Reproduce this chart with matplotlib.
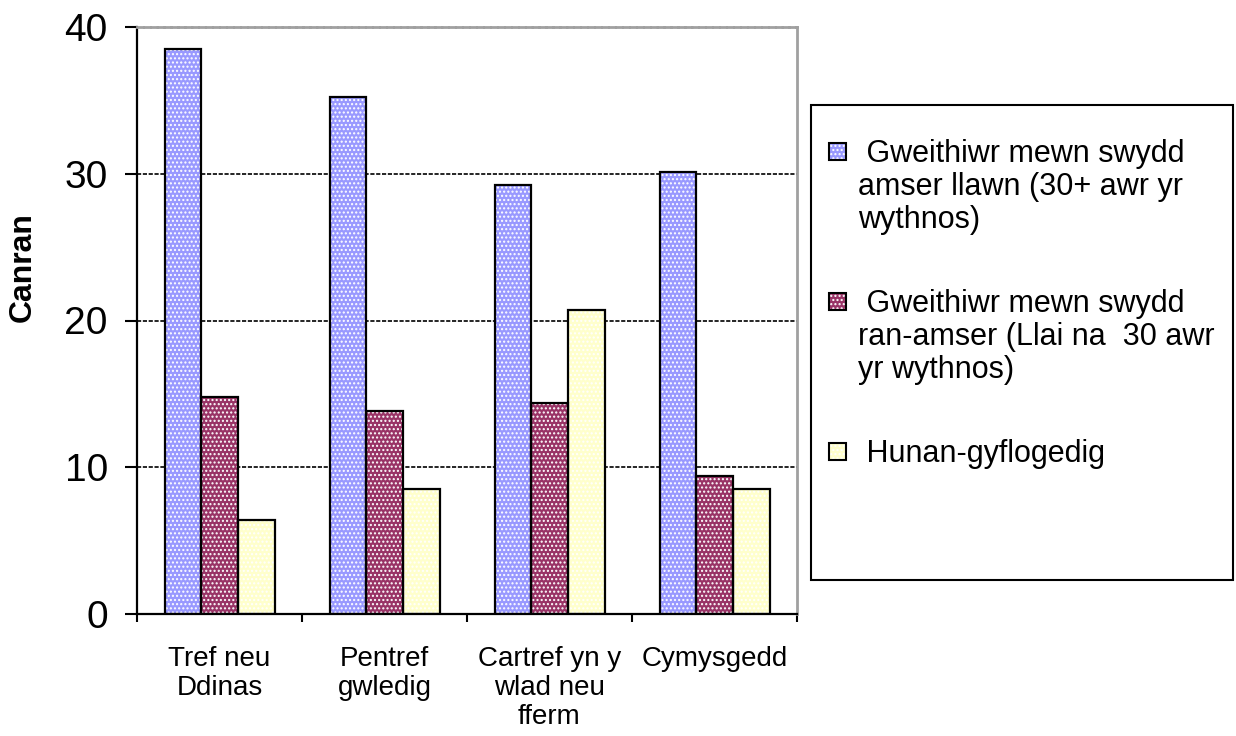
import matplotlib
matplotlib.use("Agg")
import matplotlib.pyplot as plt
from matplotlib.patches import Rectangle
import numpy as np

plt.rcParams['font.family'] = ['Liberation Sans', 'DejaVu Sans']
plt.rcParams['hatch.linewidth'] = 1.0

categories = ["Tref neu\nDdinas", "Pentref\ngwledig", "Cartref yn y\nwlad neu\nfferm", "Cymysgedd"]
series_labels = [
    " Gweithiwr mewn swydd\namser llawn (30+ awr yr\nwythnos)",
    " Gweithiwr mewn swydd\nran-amser (Llai na  30 awr\nyr wythnos)",
    " Hunan-gyflogedig",
]
full_time = [38.5, 35.2, 29.2, 30.1]
part_time = [14.8, 13.8, 14.4, 9.4]
self_employed = [6.4, 8.5, 20.7, 8.5]
series_values = [full_time, part_time, self_employed]
colors = ["#9999FF", "#993366", "#FFFFCC"]
y_ticks = [0, 10, 20, 30, 40]
y_label = "Canran"

W, H = 1236, 736
fig = plt.figure(figsize=(W / 100, H / 100), dpi=100)

def fx(x):
    return x / W

def fy(y):
    return 1 - y / H

ax = fig.add_axes([fx(137), fy(614), (797 - 137) / W, (614 - 27) / H])

n = len(categories)
bw = 1 / 4.5
centers = np.arange(n) + 0.5
for i, (vals, col) in enumerate(zip(series_values, colors)):
    xs = centers + (i - 1) * bw
    ax.bar(xs, vals, width=bw, color=col, edgecolor="white", linewidth=0,
           hatch="....", zorder=2)
    ax.bar(xs, vals, width=bw, fill=False, edgecolor="black", linewidth=1.6,
           zorder=3)

ax.set_xlim(0, n)
ax.set_ylim(0, 40)
ax.set_yticks(y_ticks)
ax.set_yticklabels([str(t) for t in y_ticks], fontsize=28)
ax.set_xticks(np.arange(n + 1))
ax.set_xticklabels([])
ax.set_xticks(centers, minor=True)
ax.set_xticklabels(categories, minor=True, fontsize=20, linespacing=1.15)
ax.tick_params(axis='x', which='major', direction='out', length=6, width=1.5)
ax.tick_params(axis='x', which='minor', length=0, pad=23)
ax.tick_params(axis='y', direction='out', length=9, width=1.5, pad=12)

ax.yaxis.grid(True, color="black", linestyle=(0, (2.5, 1)), linewidth=1.2)
ax.set_axisbelow(True)

for s in ['left', 'bottom']:
    ax.spines[s].set_color('black')
    ax.spines[s].set_linewidth(1.6)
for s in ['top', 'right']:
    ax.spines[s].set_color('#A0A0A0')
    ax.spines[s].set_linewidth(2.0)
ax.spines['top'].set_linestyle((0, (2, 0.5)))

fig.text(fx(23), fy(267), y_label, rotation=90, fontsize=23, fontweight='bold',
         ha='center', va='center')

# legend box
fig.patches.append(Rectangle((fx(811), fy(580)), fx(1233) - fx(811), fy(105) - fy(580),
                             transform=fig.transFigure, fill=False, edgecolor='black',
                             linewidth=1.5, figure=fig))
baselines = [162, 312, 462]
line_step = 33
sq = 17
for lab, col, bl in zip(series_labels, colors, baselines):
    x0, y0 = 829, bl - 19
    fig.patches.append(Rectangle((fx(x0), fy(y0 + sq)), sq / W, sq / H,
                                 transform=fig.transFigure, facecolor=col,
                                 edgecolor='white', linewidth=0, hatch='....', figure=fig))
    fig.patches.append(Rectangle((fx(x0), fy(y0 + sq)), sq / W, sq / H,
                                 transform=fig.transFigure, fill=False,
                                 edgecolor='black', linewidth=1.5, figure=fig))
    for k, line in enumerate(lab.split("\n")):
        fig.text(fx(858), fy(bl + k * line_step), line, fontsize=22,
                 ha='left', va='baseline')

fig.savefig("out.png", dpi=100)
